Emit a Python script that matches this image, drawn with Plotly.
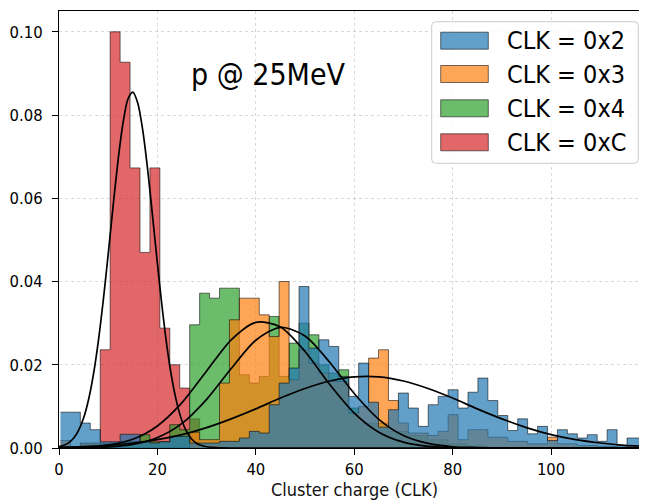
import plotly.graph_objects as go

# ---------------- data ----------------
bin_edges = [0.30, 2.32, 4.34, 6.36, 8.38, 10.40, 12.42, 14.44, 16.46, 18.48,
             20.50, 22.52, 24.54, 26.56, 28.58, 30.60, 32.62, 34.64, 36.66, 38.68,
             40.70, 42.72, 44.74, 46.76, 48.78, 50.80, 52.82, 54.84, 56.86, 58.88,
             60.90, 62.92, 64.94, 66.96, 68.98, 71.00, 73.02, 75.04, 77.06, 79.08,
             81.10, 83.12, 85.14, 87.16, 89.18, 91.20, 93.22, 95.24, 97.26, 99.28,
             101.30, 103.32, 105.34, 107.36, 109.38, 111.40, 113.42, 115.44, 117.46, 119.48]

clk_0x2 = [0.0086, 0.0086, 0.0060, 0.0044, 0.0015, 0.0015, 0.0033, 0.0033, 0.0015, 0.0012,
           0.0015, 0.0028, 0.0028, 0.0012, 0.0012, 0.0012, 0.0016, 0.0016, 0.0024, 0.0040,
           0.0036, 0.0104, 0.0156, 0.0192, 0.0388, 0.0240, 0.0260, 0.0244, 0.0172, 0.0124,
           0.0204, 0.0110, 0.0050, 0.0092, 0.0132, 0.0096, 0.0052, 0.0104, 0.0124, 0.0140,
           0.0096, 0.0134, 0.0168, 0.0114, 0.0078, 0.0042, 0.0070, 0.0034, 0.0052, 0.0018,
           0.0044, 0.0034, 0.0024, 0.0032, 0.0016, 0.0044, 0.0006, 0.0024, 0.0024]

clk_0x3 = [0.0018, 0.0000, 0.0012, 0.0012, 0.0000, 0.0000, 0.0000, 0.0000, 0.0000, 0.0000,
           0.0000, 0.0000, 0.0000, 0.0038, 0.0020, 0.0020, 0.0156, 0.0308, 0.0360, 0.0360,
           0.0320, 0.0268, 0.0400, 0.0164, 0.0236, 0.0204, 0.0180, 0.0160, 0.0160, 0.0084,
           0.0100, 0.0216, 0.0236, 0.0114, 0.0060, 0.0036, 0.0036, 0.0030, 0.0040, 0.0080,
           0.0020, 0.0044, 0.0044, 0.0026, 0.0026, 0.0016, 0.0016, 0.0010, 0.0010, 0.0026,
           0.0010, 0.0010, 0.0006, 0.0006, 0.0004, 0.0004, 0.0002, 0.0006, 0.0006]

clk_0x4 = [0.0000, 0.0000, 0.0010, 0.0010, 0.0010, 0.0012, 0.0015, 0.0015, 0.0032, 0.0015,
           0.0015, 0.0056, 0.0044, 0.0296, 0.0372, 0.0360, 0.0384, 0.0384, 0.0176, 0.0156,
           0.0172, 0.0316, 0.0172, 0.0252, 0.0300, 0.0272, 0.0200, 0.0180, 0.0188, 0.0096,
           0.0060, 0.0060, 0.0060, 0.0040, 0.0040, 0.0030, 0.0030, 0.0020, 0.0020, 0.0010,
           0.0010, 0.0005, 0.0005, 0.0000, 0.0000, 0.0000, 0.0000, 0.0000, 0.0000, 0.0000,
           0.0000, 0.0000, 0.0000, 0.0000, 0.0000, 0.0000, 0.0000, 0.0000, 0.0000]

clk_0xC = [0.0000, 0.0000, 0.0000, 0.0000, 0.0236, 0.1000, 0.0927, 0.0673, 0.0470, 0.0673,
           0.0288, 0.0200, 0.0144, 0.0070, 0.0000, 0.0000, 0.0000, 0.0000, 0.0000, 0.0000,
           0.0000, 0.0000, 0.0000, 0.0000, 0.0000, 0.0000, 0.0000, 0.0000, 0.0000, 0.0000,
           0.0000, 0.0000, 0.0000, 0.0000, 0.0000, 0.0000, 0.0000, 0.0000, 0.0000, 0.0000,
           0.0000, 0.0000, 0.0000, 0.0000, 0.0000, 0.0000, 0.0000, 0.0000, 0.0000, 0.0000,
           0.0000, 0.0000, 0.0000, 0.0000, 0.0000, 0.0000, 0.0000, 0.0000, 0.0000]

# fitted curves, points
fit_x_fine = [0, 1, 2, 3, 4, 5, 6, 7, 8, 9, 10, 11, 12, 13, 14, 15, 16, 17, 18, 19,
              20, 21, 22, 23, 24, 25, 26, 27, 28, 29, 30, 32, 35, 40, 60, 80, 100, 119.5]
fit_0xC = [0.0003, 0.00065, 0.0013, 0.0024, 0.0043, 0.0072, 0.0116, 0.0177, 0.0257, 0.0355,
           0.0466, 0.0582, 0.0691, 0.0780, 0.0838, 0.0855, 0.0829, 0.0765, 0.0671, 0.0559,
           0.0443, 0.0334, 0.0239, 0.0163, 0.0106, 0.0065, 0.0038, 0.0021, 0.0011, 0.0006,
           0.0003, 0.0001, 0.0, 0.0, 0.0, 0.0, 0.0, 0.0]

fit_x = [0, 5, 10, 15, 20, 25, 30, 35, 40, 45, 50, 55, 60, 65, 70, 75, 80, 85, 90,
         95, 100, 105, 110, 115, 119.5]
fit_0x2 = [0.00016, 0.00034, 0.00065, 0.0012, 0.0020, 0.0032, 0.0049, 0.0070, 0.0094, 0.0120,
           0.0143, 0.0161, 0.0171, 0.0171, 0.0161, 0.0143, 0.0120, 0.0094, 0.0070, 0.0049,
           0.0032, 0.0020, 0.0012, 0.00065, 0.0004]
fit_0x3 = [0.00001, 0.00006, 0.00025, 0.00086, 0.0025, 0.0059, 0.0117, 0.0191, 0.0259, 0.0290,
           0.0269, 0.0206, 0.0131, 0.0069, 0.0030, 0.0011, 0.0003, 0.0001, 0.0, 0.0,
           0.0, 0.0, 0.0, 0.0, 0.0]
fit_0x4 = [0.0001, 0.0002, 0.0007, 0.0021, 0.0053, 0.0109, 0.0185, 0.0260, 0.0302, 0.0291,
           0.0232, 0.0153, 0.0084, 0.0038, 0.0014, 0.0004, 0.0001, 0.0, 0.0, 0.0,
           0.0, 0.0, 0.0, 0.0, 0.0]

series_names = ["CLK = 0x2", "CLK = 0x3", "CLK = 0x4", "CLK = 0xC"]
title_text = "p @ 25MeV"
x_label = "Cluster charge (CLK)"
y_ticks = [0.00, 0.02, 0.04, 0.06, 0.08, 0.10]
x_ticks = [0, 20, 40, 60, 80, 100]

# ---------------- styling ----------------
FONT = "DejaVu Sans Condensed, DejaVu Sans, sans-serif"
fills = {
    "CLK = 0x2": "rgba(31,119,180,0.7)",
    "CLK = 0x3": "rgba(255,127,14,0.7)",
    "CLK = 0x4": "rgba(44,160,44,0.7)",
    "CLK = 0xC": "rgba(214,39,40,0.7)",
}
EDGE = "rgba(0,0,0,0.55)"
hists = dict(zip(series_names, [clk_0x2, clk_0x3, clk_0x4, clk_0xC]))

fig = go.Figure()

# draw order: red, green, orange, blue (blue on top)
for name in ["CLK = 0xC", "CLK = 0x4", "CLK = 0x3", "CLK = 0x2"]:
    vals = hists[name]
    fig.add_trace(go.Scatter(
        x=bin_edges, y=list(vals) + [vals[-1]],
        mode="lines", line=dict(shape="hv", color=EDGE, width=1),
        fill="tozeroy", fillcolor=fills[name], name=name, showlegend=False,
        hoverinfo="skip"))

for xs, ys in [(fit_x, fit_0x2), (fit_x, fit_0x3), (fit_x, fit_0x4), (fit_x_fine, fit_0xC)]:
    fig.add_trace(go.Scatter(x=xs, y=ys, mode="lines",
                             line=dict(color="black", width=1.7, shape="spline", smoothing=0.8),
                             showlegend=False, hoverinfo="skip"))

# The page has an 8px body margin; size the figure so the visible window matches.
OFF = 8
W, H = 647 - OFF, 501 - OFF
ML, MR, MT, MB = 51, 0, 3, 53
PW, PH = W - ML - MR, H - MT - MB


def px(xpage):
    return (xpage - OFF - ML) / PW


def py(ypage):
    return (H - MB - (ypage - OFF)) / PH


shapes = []
annotations = []

# legend box (rounded)
x0, x1, y0, y1 = px(431.7), px(638.3), py(163.3), py(21.7)
rx, ry = 4 / PW, 4 / PH
path = (f"M {x0+rx},{y0} L {x1-rx},{y0} Q {x1},{y0} {x1},{y0+ry} "
        f"L {x1},{y1-ry} Q {x1},{y1} {x1-rx},{y1} L {x0+rx},{y1} "
        f"Q {x0},{y1} {x0},{y1-ry} L {x0},{y0+ry} Q {x0},{y0} {x0+rx},{y0} Z")
shapes.append(dict(type="path", xref="paper", yref="paper", path=path,
                   fillcolor="rgba(255,255,255,0.8)", line=dict(color="#cccccc", width=1),
                   layer="above"))
row_centers = [40.7, 74.0, 108.3, 142.3]
for name, yc in zip(series_names, row_centers):
    shapes.append(dict(type="rect", xref="paper", yref="paper",
                       x0=px(440.7), x1=px(488.3), y0=py(yc + 8.5), y1=py(yc - 8.5),
                       fillcolor=fills[name], line=dict(color=EDGE, width=1), layer="above"))
    annotations.append(dict(xref="paper", yref="paper", x=px(505), y=py(yc),
                            xanchor="left", yanchor="middle", showarrow=False,
                            text=name, font=dict(family=FONT, size=25, color="black")))

annotations.append(dict(xref="paper", yref="paper", x=px(189), y=py(75),
                        xanchor="left", yanchor="middle", showarrow=False,
                        text=title_text, font=dict(family=FONT, size=30, color="black")))
annotations.append(dict(xref="x", yref="paper", x=60, y=py(490),
                        xanchor="center", yanchor="middle", showarrow=False,
                        text=x_label, font=dict(family=FONT, size=18, color="#111")))

fig.update_layout(
    width=W, height=H,
    margin=dict(l=ML, r=MR, t=MT, b=MB, pad=0),
    paper_bgcolor="white", plot_bgcolor="white",
    shapes=shapes, annotations=annotations,
    showlegend=False,
)
fig.update_xaxes(range=[0, 119.5], tickvals=x_ticks, ticktext=[str(v) for v in x_ticks],
                 showline=True, linecolor="black", linewidth=1.2, mirror=True,
                 ticks="outside", ticklen=6, tickwidth=1.2, tickcolor="black",
                 tickfont=dict(family=FONT, size=16.5, color="black"),
                 showgrid=True, gridcolor="rgba(185,185,185,0.55)", griddash="dot", gridwidth=1,
                 zeroline=False, automargin=False)
fig.update_yaxes(range=[0, 0.105], tickvals=y_ticks, ticktext=[f"{v:.2f}" for v in y_ticks],
                 showline=True, linecolor="black", linewidth=1.2, mirror=False,
                 ticks="outside", ticklen=6, tickwidth=1.2, tickcolor="black",
                 ticklabelstandoff=6,
                 tickfont=dict(family=FONT, size=16.5, color="black"),
                 showgrid=True, gridcolor="rgba(185,185,185,0.55)", griddash="dot", gridwidth=1,
                 zeroline=False, automargin=False)

fig.write_html("out.html")
